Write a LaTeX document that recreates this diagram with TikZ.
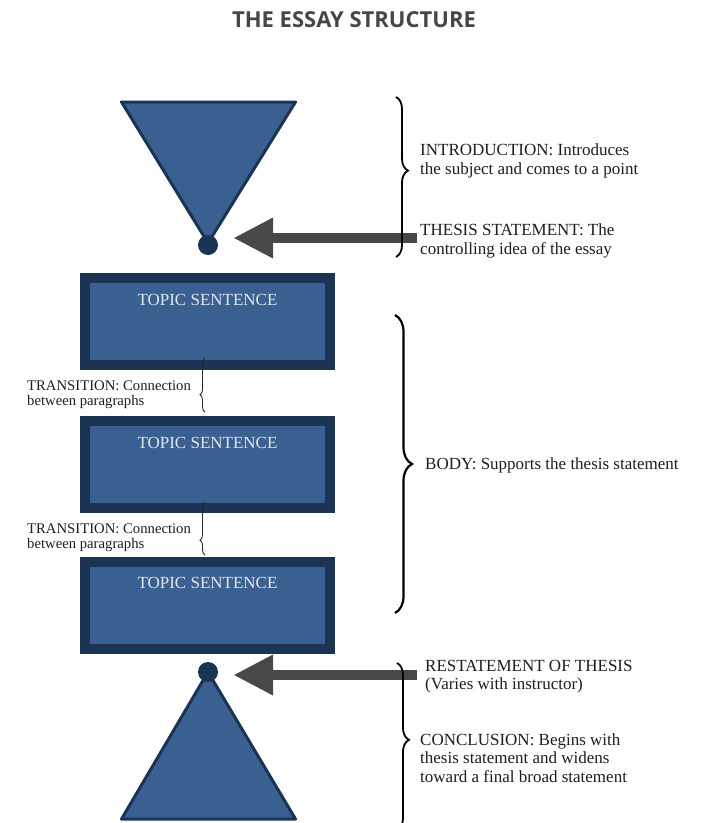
\documentclass[tikz,border=0pt]{standalone}
\usepackage{fontspec}
\setmainfont{Liberation Serif}
\newfontfamily\titlefont{Open Sans}
\usetikzlibrary{arrows.meta,decorations.pathreplacing,calc}
\definecolor{boxblue}{RGB}{58,96,146}
\definecolor{boxdark}{RGB}{28,52,84}
\definecolor{arrowgray}{RGB}{72,72,72}
\definecolor{titlegray}{RGB}{70,70,70}
\definecolor{topictext}{RGB}{225,230,238}
\definecolor{labeltext}{RGB}{30,30,30}
\begin{document}
\begin{tikzpicture}[x=1pt,y=-1pt,
  parabox/.style={draw=boxdark,fill=boxblue,line width=10pt,minimum width=245pt,minimum height=87pt,inner sep=0pt},
  topic/.style={text=topictext,font=\fontsize{17}{19}\selectfont,inner sep=0pt},
  apexdot/.style={circle,fill=boxdark,minimum size=20pt,inner sep=0pt},
  funnel/.style={fill=boxblue,draw=boxdark,line width=3pt,line join=round},
  bigarrow/.style={draw=arrowgray,line width=10pt,-{Triangle[length=40pt,width=38pt]}},
  rightlbl/.style={anchor=west,align=left,inner sep=0pt,text=labeltext,font=\fontsize{17}{18.3}\selectfont},
  translbl/.style={anchor=west,align=left,inner sep=0pt,text=labeltext,font=\fontsize{14.7}{15}\selectfont},
  bigbrace/.style={draw=black,line width=1.8pt,decorate,decoration={brace,amplitude=#1}},
  smallbrace/.style={draw=black!85,line width=0.9pt,decorate,decoration={brace,amplitude=5pt,aspect=#1}}
]
\useasboundingbox[fill=white] (0,0) rectangle (703,823);

% title
\node[font=\titlefont\bfseries\fontsize{22}{25}\selectfont,text=titlegray] (title) at (354,20) {THE ESSAY STRUCTURE};

% introduction funnel
\path[funnel] (121.5,102) -- (295.5,102) -- (208,243) -- cycle;
\node[apexdot] (apextop) at (208,245) {};

% paragraphs
\node[parabox] (box1) at (207.5,321.5) {};
\node[parabox] (box2) at (207.5,464) {};
\node[parabox] (box3) at (207.5,605) {};
\node[topic] (topic1) at (207.5,300) {TOPIC SENTENCE};
\node[topic] (topic2) at (207.5,443) {TOPIC SENTENCE};
\node[topic] (topic3) at (207.5,583) {TOPIC SENTENCE};

% conclusion funnel
\path[funnel] (208,672) -- (295.5,819) -- (121.5,819) -- cycle;
\node[apexdot] (apexbot) at (208,672) {};

% arrows
\coordinate (thesisstart) at (417,238);
\coordinate (restatestart) at (417,675);
\draw[bigarrow,shorten >=15pt] (thesisstart) -- (thesisstart -| apextop.east);
\draw[bigarrow,shorten >=15pt] (restatestart) -- (restatestart -| apexbot.east);

% braces
\draw[bigbrace=12pt,decoration={aspect=0.46}] (396,97) -- (396,257);
\draw[bigbrace=17pt,line width=2.2pt,decoration={aspect=0.5}] (395,315) -- (395,613);
\draw[bigbrace=12pt,decoration={aspect=0.46}] (397,663) -- (397,830);
\draw[smallbrace=0.32] (205,412) -- (205,358);
\draw[smallbrace=0.28] (205,555) -- (205,502);

% right labels
\node[rightlbl] (intro) at (420,161) {INTRODUCTION: Introduces\\the subject and comes to a point};
\node[rightlbl] (thesis) at (420,241) {THESIS STATEMENT: The\\controlling idea of the essay};
\node[rightlbl] (body) at (425,465) {BODY: Supports the thesis statement};
\node[rightlbl] (restate) at (425,677) {RESTATEMENT OF THESIS\\(Varies with instructor)};
\node[rightlbl] (concl) at (420,758) {CONCLUSION: Begins with\\thesis statement and widens\\toward a final broad statement};

% transition labels
\node[translbl] (trans1) at (27,395) {TRANSITION: Connection\\between paragraphs};
\node[translbl] (trans2) at (27,538) {TRANSITION: Connection\\between paragraphs};
\end{tikzpicture}
\end{document}
